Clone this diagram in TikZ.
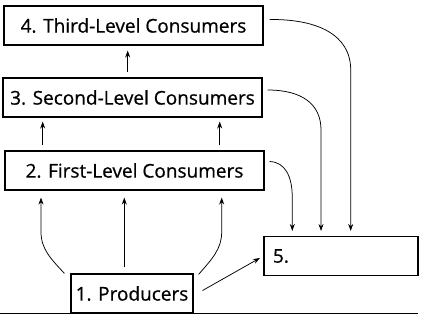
\documentclass[tikz,border=0pt]{standalone}
\usepackage{fontspec}
\setmainfont{Open Sans}[BoldFont={Open Sans},BoldFeatures={FakeBold=0.7}]
\usetikzlibrary{arrows.meta}
\begin{document}
\begin{tikzpicture}[x=1pt,y=-1pt,
  box/.style={draw, line width=1.1pt, inner sep=0pt, minimum height=39pt,
    font=\fontsize{19}{20}\selectfont\bfseries},
  arr/.style={-{Stealth[length=7pt,width=5pt]}, line width=0.75pt}]
\useasboundingbox (0,0) rectangle (422,317);
\node[box, minimum width=259pt] (n4) at (133.5,25.5) {4. Third-Level Consumers};
\node[box, minimum width=259pt] (n3) at (132.5,97.5) {3. Second-Level Consumers};
\node[box, minimum width=259pt] (n2) at (134.5,170.5) {2. First-Level Consumers};
\node[box, minimum width=122pt] (n1) at (132,293.5) {1. Producers};
\node[box, text width=136pt, inner xsep=9pt, align=left] (n5) at (341,256) {5.};
\coordinate (xa) at (127.7,0);
\coordinate (xb) at (42.7,0);
\coordinate (xc) at (219.7,0);
\coordinate (xd) at (124.3,0);
\coordinate (xe) at (41,0);
\coordinate (xf) at (221.7,0);
\coordinate (xg) at (350.7,0);
\coordinate (xh) at (321,0);
\coordinate (xi) at (292.3,0);
% vertical arrows
\draw[arr, shorten <=5pt, shorten >=5pt] (n3.north -| xa) -- (n4.south -| xa);
\draw[arr, shorten <=5pt, shorten >=4pt] (n2.north -| xb) -- (n3.south -| xb);
\draw[arr, shorten <=5pt, shorten >=4pt] (n2.north -| xc) -- (n3.south -| xc);
\draw[arr, shorten <=6pt, shorten >=7pt] (n1.north -| xd) -- (n2.south -| xd);
% producers curves
\draw[arr, shorten >=7pt] ([xshift=-6pt]n1.north west) .. controls (51,259) and (41,249) .. (41,232) -- (n2.south -| xe);
\draw[arr, shorten >=7pt] ([xshift=5pt,yshift=-1pt]n1.north east) .. controls (212,259) and (221.7,249) .. (221.7,232) -- (n2.south -| xf);
\draw[arr, shorten >=4pt] ([xshift=9pt,yshift=3pt]n1.east) -- (n5.west);
% to decomposers
\draw[arr, shorten >=5pt] ([xshift=6pt,yshift=6pt]n4.east) .. controls (318,19) and (350.7,35) .. (350.7,70) -- (n5.north -| xg);
\draw[arr, shorten >=5pt] ([xshift=5pt,yshift=7.5pt]n3.east) .. controls (302,90) and (321,104) .. (321,130) -- (n5.north -| xh);
\draw[arr, shorten >=5pt] ([xshift=5pt,yshift=9pt]n2.east) .. controls (285,162) and (292.3,176) .. (292.3,198) -- (n5.north -| xi);
% ground line
\draw[line width=1pt] (0,313.3) -- (417.7,313.3);
\end{tikzpicture}
\end{document}
